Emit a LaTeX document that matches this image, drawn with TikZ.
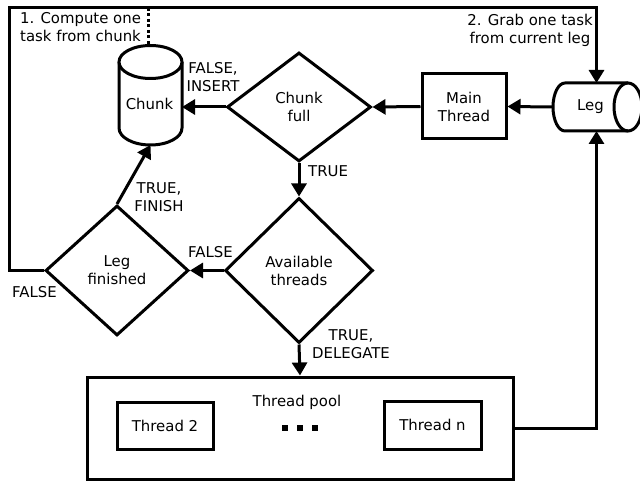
\documentclass[tikz,border=0pt]{standalone}
\usepackage{fontspec}
\setmainfont{DejaVu Sans}
\usetikzlibrary{arrows.meta,shapes.geometric}

\tikzset{
  every node/.style={font=\fontsize{14.9pt}{18pt}\selectfont},
  thick line/.style={line width=3pt},
  arr/.style={thick line, -{Triangle[length=13pt,width=15pt]}},
  boxnode/.style={draw, thick line, rectangle, inner sep=0pt, align=center},
  decision/.style={draw, thick line, diamond, inner sep=0pt, align=center},
  holder/.style={inner sep=0pt, outer sep=0pt},
  lbl/.style={inner sep=0pt, align=center},
  dotline/.style={line width=3pt, dash pattern=on 3pt off 2.5pt},
}

\begin{document}
\begin{tikzpicture}[x=1pt,y=-1pt]
\useasboundingbox (0,0) rectangle (640,481);

% storage cylinders
\node[holder, minimum width=63pt, minimum height=100pt] (chunk) at (150.5,95) {};
\draw[thick line] (119,62) -- (119,128)
  .. controls (119,137.4) and (133.1,145) .. (150.5,145)
  .. controls (167.9,145) and (182,137.4) .. (182,128) -- (182,62);
\draw[thick line, fill=white] (150.5,62) ellipse [x radius=31.5, y radius=16.5];
\node[lbl] (chunklabel) at (149.5,103.5) {Chunk};

\node[holder, minimum width=63pt, minimum height=48pt] (leg) at (596.5,107) {};
\coordinate (legw) at (553,107);
\draw[thick line] (628,83) -- (565,83)
  .. controls (558.4,83) and (553,93.7) .. (legw)
  .. controls (553,120.3) and (558.4,131) .. (565,131) -- (628,131);
\draw[thick line] (628,107) ellipse [x radius=14, y radius=24];
\node[lbl] (leglabel) at (590.5,107) {Leg};

% process boxes and decisions
\node[boxnode, minimum width=84pt, minimum height=65pt] (mt) at (464,106.5) {Main\\Thread};
\node[decision, minimum width=144pt, minimum height=109pt] (cf) at (299,107) {Chunk\\full};
\node[decision, minimum width=148pt, minimum height=145pt] (av) at (299,270.5) {Available\\threads};
\node[decision, minimum width=143pt, minimum height=130pt] (lf) at (117,270.5) {Leg\\finished};

% thread pool
\node[boxnode, minimum width=426pt, minimum height=102pt] (pool) at (300,428) {};
\node[lbl, anchor=base] (pooltitle) at (297,406) {Thread pool};
\node[boxnode, minimum width=96pt, minimum height=47pt] (t2) at (165,425.5) {Thread 2};
\node[boxnode, minimum width=97pt, minimum height=48pt] (tn) at (432.5,425) {Thread n};
\foreach \cx in {285,300,315}
  \fill (\cx-2.8,425.2) rectangle (\cx+2.8,430.8);

% connectors
\coordinate (c1) at (9,8);
\coordinate (dtop) at (148,8);
\coordinate (dbot) at (148,44);
\draw[dotline] (dtop) -- (dbot);
\draw[arr] (lf.west) -| (c1) -| (leg.north);
\draw[arr] (legw) -- (mt.east);
\draw[arr] (mt.west) -- (cf.east);
\draw[arr] (cf.west) -- (cf.west -| chunk.east);
\draw[arr] (cf.south) -- (av.north);
\draw[arr] (av.west) -- (lf.east);
\draw[arr] (lf.north) -- (chunk.south);
\draw[arr] (av.south) -- (pool.north);
\draw[arr] (pool.east) -| (leg.south);

% labels
\node[lbl] (note1) at (80.5,27.5) {1. Compute one\\task from chunk};
\node[lbl] (note2) at (530,30) {2. Grab one task\\from current leg};
\node[lbl] (fi) at (213,77.5) {FALSE,\\INSERT};
\node[lbl, anchor=base west] (t1) at (308,177) {TRUE};
\node[lbl] (tf) at (159,197.5) {TRUE,\\FINISH};
\node[lbl, anchor=base west] (f1) at (188,258) {FALSE};
\node[lbl, anchor=base west] (f2) at (12,298) {FALSE};
\node[lbl] (td) at (351,344) {TRUE,\\DELEGATE};
\end{tikzpicture}
\end{document}
